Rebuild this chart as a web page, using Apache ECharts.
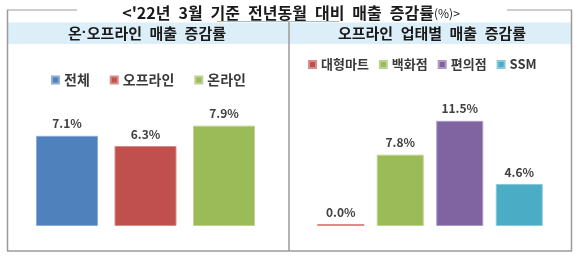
<!DOCTYPE html>
<html><head><meta charset="utf-8">
<script src="https://cdn.jsdelivr.net/npm/echarts@6/dist/echarts.min.js"></script>
<style>html,body{margin:0;padding:0;background:#fff}#c{width:580px;height:260px}</style>
</head><body><div id="c"></div>
<script>
const titleMain = "<'22년 3월 기준 전년동월 대비 매출 증감률";
const titleUnit = "(%)>";
const leftHeaderA = "온";
const leftHeaderDot = "·";
const leftHeaderB = "오프라인 매출 증감률";
const rightHeader = "오프라인 업태별 매출 증감률";

const leftNames = ["전체", "오프라인", "온라인"];
const leftValues = [7.1, 6.3, 7.9];
const leftColors = ["#4F81BD", "#C0504D", "#9BBB59"];

const rightNames = ["대형마트", "백화점", "편의점", "SSM"];
const rightValues = [0.0, 7.8, 11.5, 4.6];
const rightColors = ["#C0504D", "#9BBB59", "#8064A2", "#4BACC6"];

const FONT = '"Noto Sans CJK KR", sans-serif';
const wide = s => s.split(' ').join('\u2002');
const chart = echarts.init(document.getElementById('c'), null, {renderer: 'canvas'});

function lighten(hex, a) {
  const n = parseInt(hex.slice(1), 16);
  const r = (n >> 16) & 255, g = (n >> 8) & 255, b = n & 255;
  const f = v => Math.round(v + (255 - v) * a);
  return 'rgb(' + f(r) + ',' + f(g) + ',' + f(b) + ')';
}

const labelCfg = {
  show: true, position: 'top', distance: 6,
  fontFamily: FONT, fontWeight: 'bold', fontSize: 12, color: '#404040',
  formatter: p => p.value.toFixed(1) + '%'
};

const series = [];
leftNames.forEach((n, i) => {
  series.push({
    type: 'bar', name: n, xAxisIndex: 0, yAxisIndex: 0,
    data: [leftValues[i]], barWidth: 62, barGap: '26.6%',
    itemStyle: {color: leftColors[i], borderColor: lighten(leftColors[i], 0.35), borderWidth: 1},
    label: labelCfg, silent: true
  });
});
rightNames.forEach((n, i) => {
  const zero = rightValues[i] === 0;
  series.push({
    type: 'bar', name: n, xAxisIndex: 1, yAxisIndex: 1,
    data: [{value: rightValues[i], itemStyle: zero ? {color: '#E48787', borderWidth: 0} : undefined}],
    barWidth: 47, barGap: '26.6%', barMinHeight: zero ? 2 : 0,
    itemStyle: {color: rightColors[i], borderColor: lighten(rightColors[i], 0.35), borderWidth: 1},
    label: labelCfg, silent: true
  });
});

const border = '#9a9a9a';
chart.setOption({
  animation: false,
  grid: [
    {left: 20, width: 251, top: 99, height: 127},
    {left: 300, width: 260, top: 98, height: 128}
  ],
  xAxis: [
    {type: 'category', gridIndex: 0, data: [''], show: false},
    {type: 'category', gridIndex: 1, data: [''], show: false}
  ],
  yAxis: [
    {type: 'value', gridIndex: 0, min: 0, max: 10, show: false},
    {type: 'value', gridIndex: 1, min: 0, max: 14, show: false}
  ],
  legend: [
    {data: leftNames, left: 46, top: 68, icon: 'rect', itemWidth: 7, itemHeight: 7, itemGap: 20,
     textStyle: {fontFamily: FONT, fontWeight: 'bold', fontSize: 14, color: '#3a3a3a'}, selectedMode: false},
    {data: rightNames, left: 303, top: 53, icon: 'rect', itemWidth: 7, itemHeight: 7, itemGap: 10,
     textStyle: {fontFamily: FONT, fontWeight: 'bold', fontSize: 13, color: '#3a3a3a'}, selectedMode: false}
  ],
  graphic: [
    {type: 'rect', shape: {x: 7, y: 22.5, width: 565, height: 21.5}, style: {fill: '#DCEFF9'}, silent: true},
    {type: 'line', shape: {x1: 7, y1: 10, x2: 77, y2: 10}, style: {stroke: border, lineWidth: 1}},
    {type: 'line', shape: {x1: 507, y1: 10, x2: 572, y2: 10}, style: {stroke: border, lineWidth: 1}},
    {type: 'line', shape: {x1: 7.5, y1: 10, x2: 7.5, y2: 251}, style: {stroke: border, lineWidth: 1.5}},
    {type: 'line', shape: {x1: 571.5, y1: 10, x2: 571.5, y2: 251}, style: {stroke: border, lineWidth: 1.5}},
    {type: 'line', shape: {x1: 7, y1: 251, x2: 572, y2: 251}, style: {stroke: border, lineWidth: 1.5}},
    {type: 'line', shape: {x1: 289, y1: 22, x2: 289, y2: 251}, style: {stroke: border, lineWidth: 1.5}},
    {type: 'line', shape: {x1: 217, y1: 21.5, x2: 339, y2: 21.5}, style: {stroke: '#DDB277', lineWidth: 1.2}},
    {type: 'text', x: 291, y: 13, style: {
      text: '{a|' + wide(titleMain) + '}{b|' + titleUnit + '}', align: 'center', verticalAlign: 'middle',
      rich: {
        a: {fontFamily: FONT, fontWeight: 'bold', fontSize: 16, fill: '#1a1a1a'},
        b: {fontFamily: FONT, fontWeight: 'normal', fontSize: 12, fill: '#1a1a1a'}
      }}},
    {type: 'text', x: 147, y: 33, style: {
      text: '{a|' + leftHeaderA + '}{d|' + leftHeaderDot + '}{a|' + wide(leftHeaderB) + '}',
      align: 'center', verticalAlign: 'middle',
      rich: {
        a: {fontFamily: FONT, fontWeight: 'bold', fontSize: 15, fill: '#1a1a1a'},
        d: {fontFamily: '"Liberation Sans", sans-serif', fontWeight: 'bold', fontSize: 15, fill: '#1a1a1a'}
      }}},
    {type: 'text', x: 432, y: 33, style: {text: wide(rightHeader), align: 'center', verticalAlign: 'middle',
      fontFamily: FONT, fontWeight: 'bold', fontSize: 15, fill: '#1a1a1a'}}
  ],
  series: series
});
</script></body></html>
